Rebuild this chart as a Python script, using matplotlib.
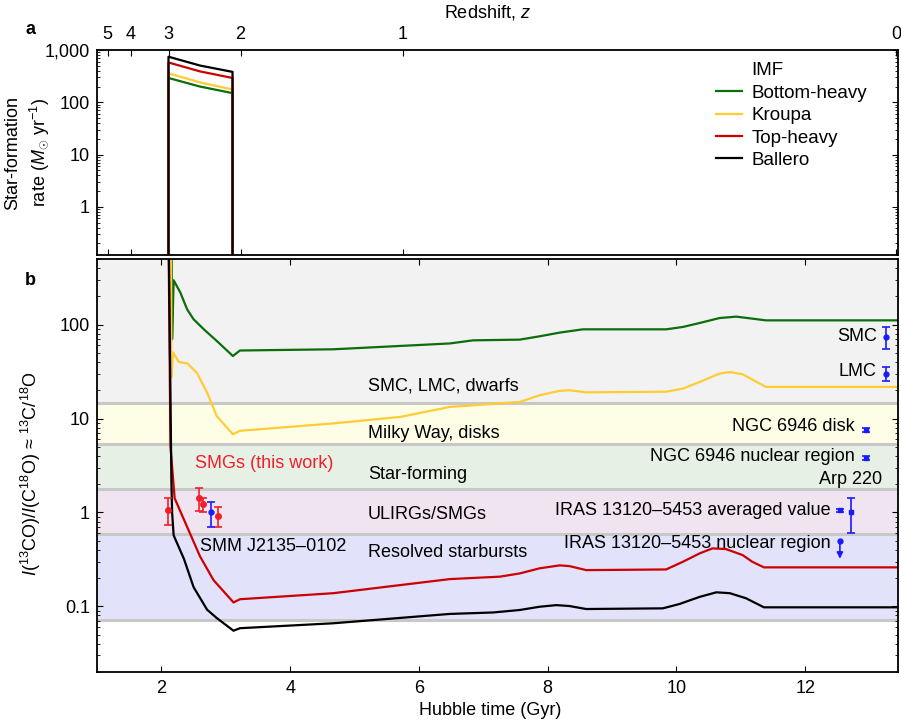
# Star-formation history (a) and 13CO/C18O ratio evolution (b)

import matplotlib.pyplot as plt
from matplotlib.lines import Line2D

plt.rcParams['font.family'] = ['Liberation Sans', 'DejaVu Sans']
plt.rcParams['mathtext.fontset'] = 'custom'
plt.rcParams['mathtext.rm'] = 'Liberation Sans'
plt.rcParams['mathtext.it'] = 'Liberation Sans:italic'
plt.rcParams['font.size'] = 13
plt.rcParams['axes.linewidth'] = 1.3

# --- redshift ticks (Hubble time, Gyr) ---
z_labels = ['5', '4', '3', '2', '1', '0']
z_times = [1.165, 1.527, 2.114, 3.23, 5.75, 13.41]

# --- IMF models ---
imf_names = ['Bottom-heavy', 'Kroupa', 'Top-heavy', 'Ballero']
imf_colors = ['#0b6e0b', '#ffcc33', '#cc0000', 'black']

# panel a: star-formation burst
burst_t = [2.11, 2.6, 3.105]
sfr_bottom = [292, 200, 150]
sfr_kroupa = [359, 240, 176]
sfr_top = [578, 390, 292]
sfr_ballero = [745, 505, 382]
sfr_off = 1e-3  # no star formation outside the burst

# panel b: isotope ratio curves
t_bottom = [2.16, 2.166, 2.19, 2.295, 2.40, 2.50, 2.66, 2.86, 3.11, 3.22, 4.67, 6.48, 6.84,
            7.566, 7.876, 8.186, 8.548, 9.84, 10.10, 10.36, 10.67, 10.93, 11.18, 11.39, 13.45]
r_bottom = [1000, 70, 297, 219, 145, 114, 89, 67, 46.3, 53, 54.6, 63, 68,
            69.2, 75.1, 82.2, 89.1, 89.1, 94.4, 104, 117.5, 121.6, 115.8, 111, 111]

t_kroupa = [2.15, 2.155, 2.18, 2.27, 2.40, 2.55, 2.71, 2.86, 3.11, 3.22, 4.67, 5.71, 6.48,
            7.566, 7.876, 8.186, 8.34, 8.60, 9.84, 10.10, 10.36, 10.67, 10.83, 11.03, 11.18, 11.39, 13.45]
r_kroupa = [1000, 27.3, 50.5, 40, 38.7, 30.8, 18.9, 10.6, 6.8, 7.4, 8.87, 10.4, 13.3,
            15.0, 17.7, 19.7, 20.0, 19.0, 19.3, 20.8, 24.5, 30.1, 31.3, 29.6, 26.0, 21.7, 21.7]

t_top = [2.11, 2.14, 2.206, 2.24, 2.40, 2.60, 2.81, 3.12, 3.22, 4.67, 6.48, 7.26,
         7.566, 7.876, 8.186, 8.34, 8.60, 9.84, 10.10, 10.36, 10.56, 10.77, 11.03, 11.18, 11.36, 13.45]
r_top = [1000, 5.1, 1.41, 1.25, 0.70, 0.34, 0.19, 0.110, 0.119, 0.138, 0.195, 0.207,
         0.224, 0.254, 0.273, 0.268, 0.243, 0.247, 0.298, 0.366, 0.414, 0.407, 0.351, 0.298, 0.260, 0.260]

t_ballero = [2.112, 2.155, 2.166, 2.19, 2.35, 2.50, 2.71, 2.86, 3.12, 3.22, 4.67, 6.48, 7.15,
             7.566, 7.876, 8.135, 8.34, 8.60, 9.79, 10.05, 10.36, 10.62, 10.83, 11.08, 11.36, 13.45]
r_ballero = [1000, 2.2, 1.0, 0.57, 0.32, 0.16, 0.092, 0.075, 0.055, 0.0585, 0.066, 0.083, 0.086,
             0.0914, 0.099, 0.103, 0.1007, 0.0936, 0.0952, 0.106, 0.126, 0.141, 0.138, 0.122, 0.0976, 0.0976]

# observed ranges for galaxy classes
band_edges = [500, 14.5, 5.3, 1.77, 0.59, 0.072]
band_colors = ['#f2f2f2', '#fefee6', '#e6f0e5', '#f0e4f0', '#e2e2fa']
band_labels = ['SMC, LMC, dwarfs', 'Milky Way, disks', 'Star-forming', 'ULIRGs/SMGs', 'Resolved starbursts']
band_label_y = [22, 7.0, 2.56, 0.96, 0.378]

# SMGs (this work)
smg_t = [2.10, 2.58, 2.64, 2.88]
smg_r = [1.06, 1.44, 1.23, 0.92]
smg_lo = [0.73, 1.03, 1.01, 0.70]
smg_hi = [1.41, 1.83, 1.41, 1.15]

# local / literature sources
src_names = ['SMM J2135\u20130102', 'SMC', 'LMC', 'NGC 6946 disk', 'NGC 6946 nuclear region',
             'IRAS 13120\u20135453 averaged value', 'Arp 220']
src_t = [2.77, 13.25, 13.25, 12.95, 12.95, 12.54, 12.71]
src_r = [1.0, 74, 29.6, 7.6, 3.8, 1.06, 1.0]
src_lo = [0.70, 55, 25, 7.2, 3.6, 1.02, 0.61]
src_hi = [1.30, 94, 35, 8.0, 4.0, 1.10, 1.41]
src_marker = ['o', 'o', 'o', 's', 's', 's', 's']

# upper limit
lim_name = 'IRAS 13120\u20135453 nuclear region'
lim_t = 12.54
lim_r = 0.5
lim_arrow_to = 0.30

red = '#f0202a'
blue = '#1a1aff'

fig = plt.figure(figsize=(9.01, 7.22), dpi=100)
ax1 = fig.add_axes([0.1077, 0.6468, 0.8895, 0.2839])
ax2 = fig.add_axes([0.1077, 0.0693, 0.8895, 0.572])

# ---------- panel a ----------
sfr_list = [sfr_bottom, sfr_kroupa, sfr_top, sfr_ballero]
for vals, c in zip(sfr_list, imf_colors):
    tt = [burst_t[0]] + burst_t + [burst_t[-1]]
    vv = [sfr_off] + vals + [sfr_off]
    ax1.plot(tt, vv, color=c, lw=1.6)
ax1.set_yscale('log')
ax1.set_ylim(0.12, 1000)
ax1.set_xlim(1.0, 13.45)
ax1.set_yticks([1, 10, 100, 1000])
ax1.set_yticklabels(['1', '10', '100', '1,000'])
ax1.set_xticks(z_times)
ax1.set_xticklabels(z_labels)
ax1.tick_params(axis='x', which='both', direction='in', top=True, bottom=True,
                labeltop=True, labelbottom=False, length=4.5, pad=5)
ax1.tick_params(axis='y', which='both', direction='in', left=True, right=True)
ax1.tick_params(axis='y', which='major', length=4.5, pad=5)
ax1.tick_params(axis='y', which='minor', length=2.5)
ax1.set_xlabel('Redshift, $z$')
ax1.xaxis.set_label_position('top')
ax1.xaxis.set_label_coords(0.4875, 1.16)
ax1.set_ylabel('Star-formation\nrate ($M_{\\odot}$ yr$^{-1}$)', linespacing=1.3)
ax1.yaxis.set_label_coords(-0.058, 0.5)

handles = [Line2D([], [], color='none')] + [Line2D([], [], color=c, lw=1.6) for c in imf_colors]
ax1.legend(handles, ['IMF'] + imf_names, loc='upper left', bbox_to_anchor=(0.772, 0.94),
           frameon=False, handlelength=1.4, handletextpad=0.5, labelspacing=0.28,
           borderpad=0, borderaxespad=0, fontsize=13.5)

# ---------- panel b ----------
for i in range(len(band_colors)):
    ax2.axhspan(band_edges[i + 1], band_edges[i], color=band_colors[i], lw=0, zorder=0)
for e in band_edges[1:]:
    ax2.axhline(e, color='#c8c8c8', lw=2.2, zorder=1)
for lab, y in zip(band_labels, band_label_y):
    ax2.text(5.21, y, lab, ha='left', va='center', zorder=3)

curves = [(t_bottom, r_bottom), (t_kroupa, r_kroupa), (t_top, r_top), (t_ballero, r_ballero)]
for (tt, rr), c in zip(curves, imf_colors):
    ax2.plot(tt, rr, color=c, lw=1.6, zorder=2)

for t, r, lo, hi in zip(smg_t, smg_r, smg_lo, smg_hi):
    ax2.errorbar(t, r, yerr=[[r - lo], [hi - r]], fmt='o', color=red, ms=4,
                 capsize=3, elinewidth=1.2, capthick=1.2, zorder=4)
ax2.text(2.527, 3.35, 'SMGs (this work)', color=red, ha='left', va='center', zorder=3)

for t, r, lo, hi, m in zip(src_t, src_r, src_lo, src_hi, src_marker):
    ax2.errorbar(t, r, yerr=[[r - lo], [hi - r]], fmt=m, color=blue, ms=3.5,
                 capsize=3, elinewidth=1.2, capthick=1.2, zorder=4)
ax2.plot(lim_t, lim_r, 'o', color=blue, ms=3.5, zorder=4)
ax2.annotate('', xy=(lim_t, lim_arrow_to), xytext=(lim_t, lim_r),
             arrowprops=dict(arrowstyle='-|>', color=blue, lw=1.2, mutation_scale=9), zorder=4)

ax2.text(2.605, 0.43, src_names[0], ha='left', va='center', zorder=3)
ax2.text(13.11, 74.5, src_names[1], ha='right', va='center', zorder=3)
ax2.text(13.11, 31.9, src_names[2], ha='right', va='center', zorder=3)
ax2.text(12.77, 8.3, src_names[3], ha='right', va='center', zorder=3)
ax2.text(12.77, 3.97, src_names[4], ha='right', va='center', zorder=3)
ax2.text(13.2, 2.24, src_names[6], ha='right', va='center', zorder=3)
ax2.text(12.39, 1.06, src_names[5], ha='right', va='center', zorder=3)
ax2.text(12.39, 0.468, lim_name, ha='right', va='center', zorder=3)

ax2.set_yscale('log')
ax2.set_ylim(0.02, 500)
ax2.set_xlim(1.0, 13.45)
ax2.set_yticks([0.1, 1, 10, 100])
ax2.set_yticklabels(['0.1', '1', '10', '100'])
ax2.set_xticks([2, 4, 6, 8, 10, 12])
ax2.tick_params(axis='x', which='both', direction='in', top=True, bottom=True, length=4.5, pad=6)
ax2.tick_params(axis='y', which='both', direction='in', left=True, right=True)
ax2.tick_params(axis='y', which='major', length=4.5, pad=5)
ax2.tick_params(axis='y', which='minor', length=2.5)
ax2.set_xlabel('Hubble time (Gyr)')
ax2.xaxis.set_label_coords(0.49, -0.072)
ax2.set_ylabel('$I$($^{13}$CO)/$I$(C$^{18}$O) \u2248 $^{13}$C/$^{18}$O')
ax2.yaxis.set_label_coords(-0.068, 0.48)

fig.text(30 / 901, 1 - 29 / 722, 'a', weight='bold', ha='center', va='center', fontsize=13)
fig.text(30 / 901, 1 - 281 / 722, 'b', weight='bold', ha='center', va='center', fontsize=13)

fig.savefig('out.png', dpi=100)
